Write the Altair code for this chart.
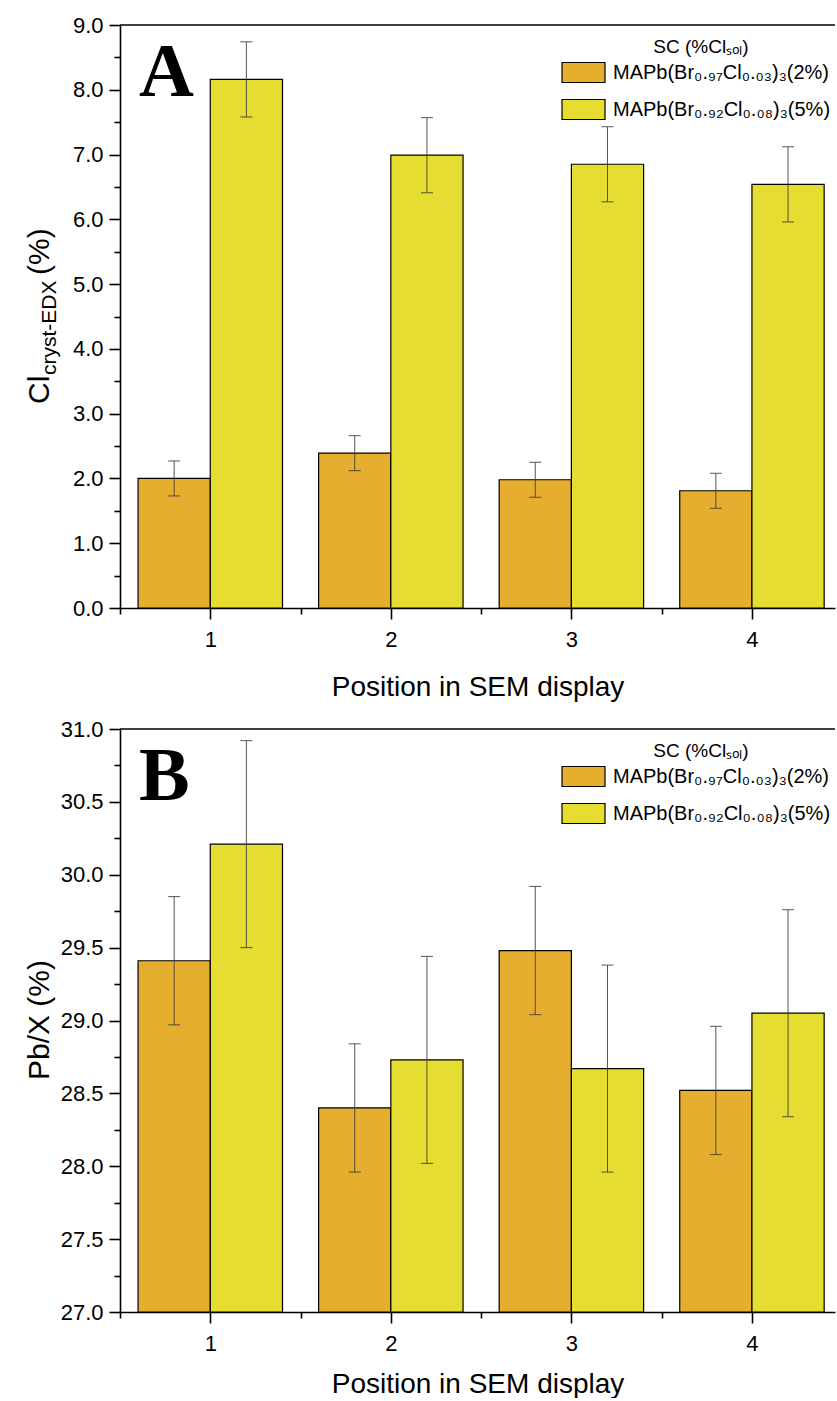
import altair as alt
import pandas as pd

# ---------------- data ----------------
positions = [1, 2, 3, 4]
series_names = ["MAPb(Br₀.₉₇Cl₀.₀₃)₃(2%)", "MAPb(Br₀.₉₂Cl₀.₀₈)₃(5%)"]
series_colors = ["#E5AE2E", "#E5DD31"]
legend_title = "SC (%Clₛₒₗ)"

a_low = [2.00, 2.39, 1.98, 1.81]
a_low_err = [0.27, 0.27, 0.27, 0.27]
a_high = [8.16, 6.99, 6.85, 6.54]
a_high_err = [0.58, 0.58, 0.58, 0.58]

b_low = [29.41, 28.40, 29.48, 28.52]
b_low_err = [0.44, 0.44, 0.44, 0.44]
b_high = [30.21, 28.73, 28.67, 29.05]
b_high_err = [0.71, 0.71, 0.71, 0.71]

a_ticks = [0.0, 0.5, 1.0, 1.5, 2.0, 2.5, 3.0, 3.5, 4.0, 4.5, 5.0, 5.5, 6.0, 6.5, 7.0, 7.5, 8.0, 8.5, 9.0]
b_ticks = [27.0, 27.25, 27.5, 27.75, 28.0, 28.25, 28.5, 28.75, 29.0, 29.25, 29.5, 29.75,
           30.0, 30.25, 30.5, 30.75, 31.0]
x_ticks = [0.5, 1.0, 1.5, 2.0, 2.5, 3.0, 3.5, 4.0]
x_title = "Position in SEM display"

W = 715
H = 583
FONT = "Liberation Sans"


def build_df(low, low_err, high, high_err, base):
    rows = []
    for i, p in enumerate(positions):
        for s, (vals, errs) in enumerate([(low, low_err), (high, high_err)]):
            v = vals[i]
            e = errs[i]
            x0 = p - 0.4 if s == 0 else p
            rows.append({
                "pos": p, "series": series_names[s], "order": s,
                "value": v, "lo": v - e, "hi": v + e,
                "x0": x0, "x1": x0 + 0.4, "xc": x0 + 0.2, "base": base,
            })
    return pd.DataFrame(rows)


def panel(df, ydomain, yticks, minor_test, label_expr, letter, title_parts, xtitle_pad):
    xscale = alt.Scale(domain=[0.5, 4.46], nice=False, zero=False)
    yscale = alt.Scale(domain=ydomain, nice=False, zero=False)
    xaxis = alt.Axis(
        values=x_ticks,
        tickSize={"condition": {"test": "datum.value % 1 !== 0", "value": 6}, "value": 11},
        labelExpr="datum.value % 1 === 0 ? format(datum.value, 'd') : ''",
        title=x_title, titleFont=FONT, titleFontSize=28, titleFontWeight="normal",
        titleColor="black", titlePadding=xtitle_pad,
        labelFont=FONT, labelFontSize=22, labelColor="black", labelPadding=10,
        domainColor="black", domainWidth=1.6, tickColor="black", tickWidth=1.6, grid=False,
    )
    yaxis = alt.Axis(
        values=yticks,
        tickSize={"condition": {"test": minor_test, "value": 6}, "value": 11},
        labelExpr=label_expr, title=None,
        labelFont=FONT, labelFontSize=22, labelColor="black", labelPadding=6,
        domainColor="black", domainWidth=1.6, tickColor="black", tickWidth=1.6, grid=False,
    )
    color = alt.Color(
        "series:N",
        scale=alt.Scale(domain=series_names, range=series_colors),
        sort=series_names,
        legend=alt.Legend(
            title=legend_title, orient="none", legendX=452, legendY=13,
            titleFont=FONT, titleFontSize=19, titleFontWeight="normal", titleColor="black",
            titleAnchor="middle", titleAlign="center", titlePadding=4,
            labelFont=FONT, labelFontSize=20, labelColor="black", labelOffset=18,
            labelLimit=0,
            symbolType="M-2,-0.93L2,-0.93L2,0.93L-2,0.93Z", symbolSize=462,
            symbolStrokeColor="black", symbolStrokeWidth=1.2, symbolOpacity=1,
            rowPadding=12,
        ),
    )
    X = lambda f: alt.X(f, scale=xscale, axis=xaxis)
    Y = lambda f: alt.Y(f, scale=yscale, axis=yaxis)
    base = alt.Chart(df)
    bars = base.mark_bar(stroke="black", strokeWidth=1.2, opacity=1).encode(
        x=X("x0:Q"), x2="x1:Q", y=Y("value:Q"), y2="base:Q", color=color,
    )
    err = base.mark_rule(color="#3a3a3a", strokeWidth=1, opacity=0.85).encode(
        x=X("xc:Q"), y=Y("lo:Q"), y2="hi:Q",
    )
    cap_lo = base.mark_tick(orient="horizontal", size=12, thickness=1, color="#3a3a3a", opacity=0.85).encode(
        x=X("xc:Q"), y=Y("lo:Q"),
    )
    cap_hi = base.mark_tick(orient="horizontal", size=12, thickness=1, color="#3a3a3a", opacity=0.85).encode(
        x=X("xc:Q"), y=Y("hi:Q"),
    )
    top = alt.Chart(pd.DataFrame({"k": [0]})).mark_rule(color="black", strokeWidth=1.6).encode(
        x=alt.value(0), x2=alt.value(W), y=alt.value(0)
    )
    letter_mark = alt.Chart(pd.DataFrame({"t": [letter]})).mark_text(
        font="Liberation Serif", fontWeight="bold", fontSize=76, align="left",
        baseline="alphabetic", color="black",
    ).encode(text="t:N", x=alt.value(19), y=alt.value(71))

    layers = [bars, err, cap_lo, cap_hi, top, letter_mark]
    for txt, size, xpos, ypos, align in title_parts:
        layers.append(
            alt.Chart(pd.DataFrame({"t": [txt]})).mark_text(
                font=FONT, fontSize=size, angle=270, align=align,
                baseline="alphabetic", color="black",
            ).encode(text="t:N", x=alt.value(xpos), y=alt.value(ypos))
        )
    return alt.layer(*layers).properties(width=W, height=H)


df_a = build_df(a_low, a_low_err, a_high, a_high_err, 0.0)
df_b = build_df(b_low, b_low_err, b_high, b_high_err, 27.0)

title_a = [
    ("Cl", 30, -71, 379, "left"),
    ("cryst-EDX", 21, -64, 350, "left"),
    ("(%)", 30, -71, 250, "left"),
]
title_b = [
    ("Pb/X (%)", 30, -71, 291, "center"),
]

pa = panel(df_a, [0, 9], a_ticks, "datum.value % 1 !== 0",
           "datum.value % 1 === 0 ? format(datum.value, '.1f') : ''", "A", title_a, 23)
pb = panel(df_b, [27, 31], b_ticks, "(datum.value * 2) % 1 !== 0",
           "(datum.value * 2) % 1 === 0 ? format(datum.value, '.1f') : ''", "B", title_b, 16)

chart = alt.vconcat(pa, pb, spacing=17).resolve_scale(color="independent").configure_view(
    stroke=None
).properties(
    padding={"left": 25, "top": 14, "right": 0, "bottom": 0}
)

chart.save("out.html", embed_options={"renderer": "svg", "actions": False})
